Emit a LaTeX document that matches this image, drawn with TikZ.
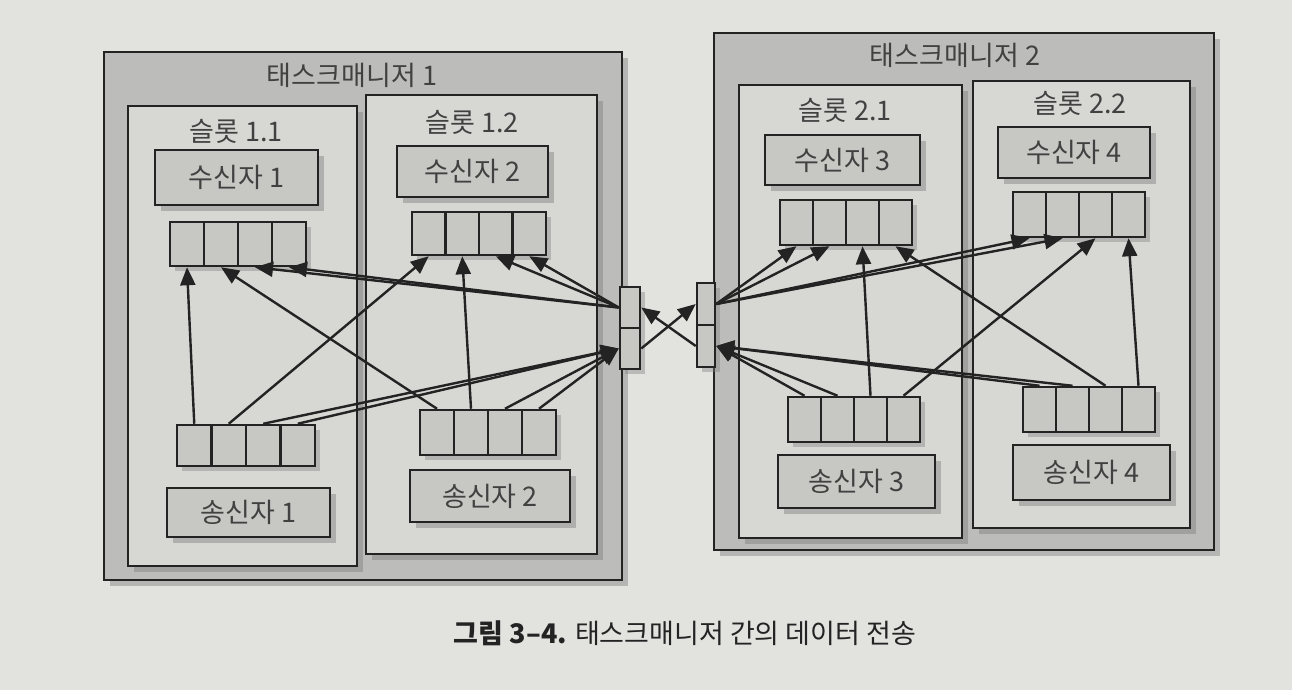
\documentclass[tikz,border=0pt]{standalone}
\usepackage{fontspec}
\newfontfamily\kr{Noto Sans CJK KR}
\usetikzlibrary{arrows.meta,shadows}
\definecolor{pagebg}{RGB}{226,226,223}
\definecolor{tmfill}{RGB}{188,188,186}
\definecolor{slotfill}{RGB}{215,215,212}
\definecolor{boxfill}{RGB}{199,199,196}
\definecolor{ink}{RGB}{35,35,35}
\definecolor{txt}{RGB}{65,65,65}
\tikzset{
  shad/.style={drop shadow={shadow xshift=6pt, shadow yshift=-6pt, opacity=0.45}},
  frame/.style={draw=ink, line width=2.8pt, inner sep=0pt, shad},
  tmbox/.style={frame, fill=tmfill},
  slotbox/.style={frame, fill=slotfill},
  actor/.style={frame, fill=boxfill, font=\kr\fontsize{27}{30}\selectfont, text=txt},
  cell/.style={draw=ink, line width=2.5pt, fill=boxfill, inner sep=0pt,
    drop shadow={shadow xshift=5pt, shadow yshift=-5pt, opacity=0.4}},
  title/.style={font=\kr\fontsize{27}{30}\selectfont, text=txt, inner sep=0pt},
  flow/.style={draw=ink, line width=2.4pt, -{Triangle[length=18pt,width=15pt]}},
}
% name, style, x1, y1, x2, y2, text
\newcommand\mkbox[7]{\node[#2, minimum width={(#5-#3)*1pt}, minimum height={(#6-#4)*1pt}]
  (#1) at ({(#3+#5)/2},{(#4+#6)/2}) {#7};}
% name, left, top, cell width, cell height
\newcommand\mkqueue[5]{\foreach \i in {1,...,4}{%
  \node[cell, minimum width=#4pt, minimum height=#5pt] (#1\i) at ({#2+(\i-0.5)*#4},{#3+#5/2}) {};}}
\begin{document}
\begin{tikzpicture}[x=1pt,y=-1pt]
\fill[pagebg] (0,0) rectangle (1292,690);
\useasboundingbox (0,0) rectangle (1292,690);

% task managers
\mkbox{tm1}{tmbox}{104}{52}{622}{580}{}
\mkbox{tm2}{tmbox}{714}{33}{1214}{550}{}
\node[title] (tm1t) at (352,75) {태스크매니저 1};
\node[title] (tm2t) at (955,55) {태스크매니저 2};

% slots
\mkbox{s11}{slotbox}{128}{106}{357}{566}{}
\mkbox{s12}{slotbox}{366}{95}{597}{554}{}
\mkbox{s21}{slotbox}{739}{85}{962}{538}{}
\mkbox{s22}{slotbox}{973}{81}{1190}{528}{}
\node[title] (s11t) at (236,131) {슬롯 1.1};
\node[title] (s12t) at (472,122) {슬롯 1.2};
\node[title] (s21t) at (845,110) {슬롯 2.1};
\node[title] (s22t) at (1080,103) {슬롯 2.2};

% receivers and senders
\mkbox{rcv1}{actor}{155}{150}{318}{205}{수신자 1}
\mkbox{rcv2}{actor}{397}{146}{548}{197}{수신자 2}
\mkbox{rcv3}{actor}{765}{135}{920}{185}{수신자 3}
\mkbox{rcv4}{actor}{998}{127}{1150}{178}{수신자 4}
\mkbox{snd1}{actor}{167}{488}{330}{537}{송신자 1}
\mkbox{snd2}{actor}{410}{470}{570}{522}{송신자 2}
\mkbox{snd3}{actor}{778}{455}{935}{508}{송신자 3}
\mkbox{snd4}{actor}{1013}{445}{1170}{500}{송신자 4}

% queues
\mkqueue{ra}{170}{222}{34}{44}
\mkqueue{rb}{412}{212}{33.5}{43}
\mkqueue{rc}{780}{200}{33}{45}
\mkqueue{rd}{1013}{192}{33}{45}
\mkqueue{sa}{177}{425}{34.5}{41}
\mkqueue{sb}{420}{410}{34}{45}
\mkqueue{sc}{788}{397}{33}{45}
\mkqueue{sd}{1023}{387}{33}{45}

% network ports
\node[cell, minimum width=20pt, minimum height=41pt] (p1a) at (630,307.5) {};
\node[cell, minimum width=20pt, minimum height=41pt] (p1b) at (630,348.5) {};
\node[cell, minimum width=18pt, minimum height=42pt] (p2a) at (706,304) {};
\node[cell, minimum width=18pt, minimum height=42pt] (p2b) at (706,346) {};

% task manager 1 flows
\draw[flow] (sa1.north) -- (ra1.south);
\draw[flow] (sa2.north) -- (rb1.south);
\draw[flow] (sa3.north) -- (p1b.west);
\draw[flow] (sa4.north) -- (p1b.west);
\draw[flow] (sb1.north) -- (ra2.south);
\draw[flow] (sb2.north) -- (rb2.south);
\draw[flow] (sb3.north) -- (p1b.west);
\draw[flow] (sb4.north) -- (p1b.west);
\draw[flow] (p1a.west) -- (ra3.south);
\draw[flow] (p1a.west) -- (ra4.south);
\draw[flow] (p1a.west) -- (rb3.south);
\draw[flow] (p1a.west) -- (rb4.south);

% between task managers
\draw[flow] (p1b.east) -- (p2a.west);
\draw[flow] (p2b.west) -- (p1a.east);

% task manager 2 flows
\draw[flow] (p2a.east) -- (rc1.south);
\draw[flow] (p2a.east) -- (rc2.south);
\draw[flow] (p2a.east) -- (rd1.south);
\draw[flow] (p2a.east) -- (rd2.south);
\draw[flow] (sc1.north) -- (p2b.east);
\draw[flow] (sc2.north) -- (p2b.east);
\draw[flow] (sc3.north) -- (rc3.south);
\draw[flow] (sc4.north) -- (rd3.south);
\draw[flow] (sd1.north) -- (p2b.east);
\draw[flow] (sd2.north) -- (p2b.east);
\draw[flow] (sd3.north) -- (rc4.south);
\draw[flow] (sd4.north) -- (rd4.south);

% caption
\node[font=\kr\fontsize{27}{30}\selectfont, text=ink, inner sep=0pt] (cap) at (685,633)
  {{\bfseries 그림 3–4.} 태스크매니저 간의 데이터 전송};
\end{tikzpicture}
\end{document}
